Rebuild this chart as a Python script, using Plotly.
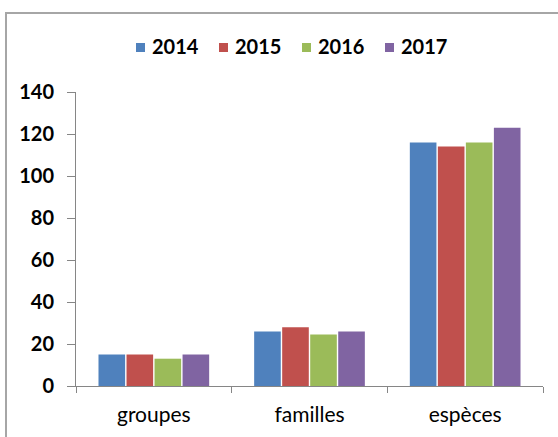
import plotly.graph_objects as go

categories = ["groupes", "familles", "espèces"]
years = ["2014", "2015", "2016", "2017"]
values_2014 = [15, 26, 116]
values_2015 = [15, 28, 114]
values_2016 = [13, 24.5, 116]
values_2017 = [15, 26, 123]
series = [values_2014, values_2015, values_2016, values_2017]
colors = ["#4F81BD", "#C0504D", "#9BBB59", "#8064A2"]
y_ticks = [0, 20, 40, 60, 80, 100, 120, 140]

fig = go.Figure()
for name, vals, col in zip(years, series, colors):
    fig.add_trace(go.Bar(
        x=categories, y=vals, name=name, showlegend=False,
        marker=dict(color=col, line=dict(width=0)),
    ))

W, H = 558, 437
L, R, T, B = 76, 15, 92, 51
pw = W - L - R
ph = H - T - B


def px_x(px):
    return (px - L) / pw


def px_y(py):
    return ((H - B) - py) / ph


shapes = [dict(
    type="rect", xref="paper", yref="paper",
    x0=px_x(6), x1=px_x(W + 5), y0=px_y(H + 5), y1=px_y(13),
    line=dict(color="#A6A6A6", width=2), fillcolor="rgba(0,0,0,0)",
    layer="below",
)]
annotations = []
# legend built from the series names and colours
step = 83
for i, (name, col) in enumerate(zip(years, colors)):
    sx = 136 + i * step
    shapes.append(dict(
        type="rect", xref="paper", yref="paper",
        x0=px_x(sx), x1=px_x(sx + 9), y0=px_y(52), y1=px_y(43),
        line=dict(width=0), fillcolor=col,
    ))
    annotations.append(dict(
        text=name, xref="paper", yref="paper", x=px_x(sx + 14), y=px_y(46),
        xanchor="left", yanchor="middle", showarrow=False,
        font=dict(size=20, family="Lato, sans-serif", weight="bold", color="#000"),
    ))

fig.update_layout(
    width=W, height=H,
    margin=dict(l=L, r=R, t=T, b=B, pad=0),
    paper_bgcolor="white", plot_bgcolor="white",
    barmode="group", bargap=0.28, bargroupgap=0.05,
    font=dict(family="Lato, sans-serif", color="#000000"),
    showlegend=False,
    xaxis=dict(
        type="category", showline=True, linecolor="#868686", linewidth=1,
        ticks="outside", ticklen=6, tickcolor="#868686", tickson="boundaries",
        tickfont=dict(size=21), showgrid=False, zeroline=False,
        ticklabelstandoff=10,
    ),
    yaxis=dict(
        range=[0, 140], tickvals=y_ticks, showline=True, linecolor="#868686",
        linewidth=1, ticks="outside", ticklen=8, tickcolor="#868686",
        tickfont=dict(size=20, weight="bold"), showgrid=False, zeroline=False,
        ticklabelstandoff=9,
    ),
    shapes=shapes,
    annotations=annotations,
)

fig.write_html("out.html")
